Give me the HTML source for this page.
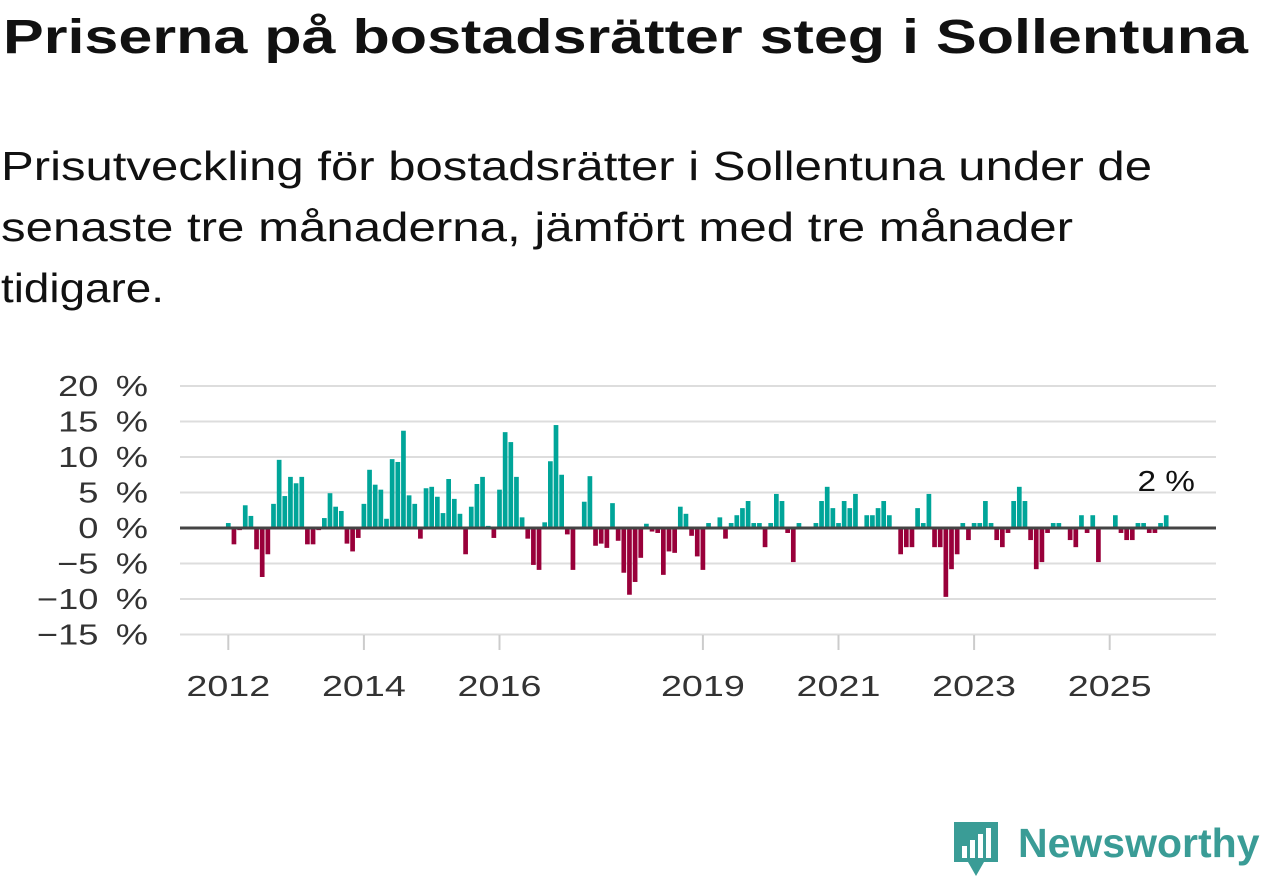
<!DOCTYPE html>
<html><head><meta charset="utf-8">
<style>
body{margin:0;width:1262px;height:879px;background:#fff;font-family:"Liberation Sans",sans-serif;color:#111;position:relative;overflow:hidden}
.fit{position:absolute;white-space:nowrap;transform-origin:0 0;margin:0}
#title{left:3px;top:10px;font-size:48px;font-weight:bold}
.sub{font-size:41px}
svg{position:absolute;left:0;top:0}
</style></head><body>
<h1 id="title" class="fit" data-w="1245">Priserna på bostadsrätter steg i Sollentuna</h1>
<div>
<span class="fit sub" data-w="1151" style="left:1px;top:143px">Prisutveckling för bostadsrätter i Sollentuna under de</span>
<span class="fit sub" data-w="1072" style="left:1px;top:204px">senaste tre månaderna, jämfört med tre månader</span>
<span class="fit sub" data-w="163" style="left:1px;top:265px">tidigare.</span>
</div>
<svg id="chart" width="1262" height="879"></svg>
<div style="position:absolute;left:952px;top:820px;width:310px;height:60px">
<svg width="50" height="60" style="position:absolute;left:0;top:0"><path d="M2 2h44v40h-14l-8 14-8-14H2z" fill="#3a9c96"/><rect x="10" y="26" width="5" height="12" fill="#fff"/><rect x="18" y="20" width="5" height="18" fill="#fff"/><rect x="26" y="14" width="5" height="24" fill="#fff"/><rect x="34" y="8" width="5" height="30" fill="#fff"/></svg>
<div style="position:absolute;left:66px;top:0;font-size:41px;font-weight:bold;color:#3a9c96">Newsworthy</div>
</div>
<script>
const values=[0.7,-2.3,-0.3,3.2,1.7,-3.0,-6.9,-3.7,3.4,9.6,
4.5,7.2,6.3,7.2,-2.3,-2.3,-0.3,1.4,4.9,3.0,
2.4,-2.2,-3.3,-1.4,3.4,8.2,6.1,5.4,1.3,9.7,
9.3,13.7,4.6,3.4,-1.5,5.6,5.8,4.4,2.1,6.9,
4.1,2.0,-3.7,3.0,6.2,7.2,0.3,-1.4,5.4,13.5,
12.1,7.2,1.5,-1.5,-5.2,-5.9,0.8,9.4,14.5,7.5,
-0.9,-5.9,0,3.7,7.3,-2.5,-2.2,-2.8,3.5,-1.8,
-6.3,-9.4,-7.6,-4.2,0.6,-0.5,-0.7,-6.6,-3.3,-3.5,
3.0,2.0,-1.1,-4.0,-5.9,0.7,0,1.5,-1.5,0.7,
1.8,2.8,3.8,0.7,0.7,-2.7,0.7,4.8,3.8,-0.7,
-4.8,0.7,0,0,0.7,3.8,5.8,2.8,0.7,3.8,
2.8,4.8,0,1.8,1.8,2.8,3.8,1.8,0,-3.7,
-2.7,-2.7,2.8,0.7,4.8,-2.7,-2.7,-9.7,-5.8,-3.7,
0.7,-1.7,0.7,0.7,3.8,0.7,-1.7,-2.7,-0.7,3.8,
5.8,3.8,-1.7,-5.8,-4.8,-0.7,0.7,0.7,0,-1.7,
-2.7,1.8,-0.7,1.8,-4.8,0,0,1.8,-0.7,-1.7,
-1.7,0.7,0.7,-0.7,-0.7,0.7,1.8];
const startYear=2012;
const yTicks=[20,15,10,5,0,-5,-10,-15];
const xTickYears=[2012,2014,2016,2019,2021,2023,2025];
const lastLabel="2 %";
const NS="http://www.w3.org/2000/svg";
const svg=document.getElementById('chart');
const x0=180,x1=1216;
function y(v){return 528-v*7.1;}
function xm(i){return 228.3+i*5.65;}
function xYear(yr){return xm((yr-startYear)*12);}
function el(t,a){const e=document.createElementNS(NS,t);for(const k in a)e.setAttribute(k,a[k]);svg.appendChild(e);return e;}
function stretch(t,k){const w=t.getComputedTextLength();t.setAttribute('textLength',w*k);t.setAttribute('lengthAdjust','spacingAndGlyphs');}
document.querySelectorAll('.fit').forEach(e=>{const w=e.getBoundingClientRect().width;e.style.transform='scaleX('+(+e.dataset.w/w)+')';});
yTicks.forEach(t=>{
 if(t!==0){const g=el('line',{x1:x0,x2:x1,y1:y(t),y2:y(t),stroke:'#ddd','stroke-width':2});
 
 }
 const l=el('text',{x:148,y:y(t)+10,'text-anchor':'end','font-size':29,fill:'#333','font-family':'Liberation Sans, sans-serif'});
 l.textContent=(t<0?'\u2212'+(-t):t)+'\u2009 %';
 
 
 stretch(l,1.25);
});
xTickYears.forEach(yr=>{
 const x=xYear(yr);
 const tk=el('line',{x1:x,x2:x,y1:635,y2:650,stroke:'#ccc','stroke-width':2});
 
 
 const l=el('text',{x:x,y:696,'text-anchor':'middle','font-size':29,fill:'#333','font-family':'Liberation Sans, sans-serif'});
 l.textContent=yr;
 
 
 stretch(l,1.3);
});
values.forEach((v,i)=>{
 if(v===0)return;
 const r=el('rect',{x:xm(i)-2.35,width:4.7,y:Math.min(y(v),y(0)),height:Math.abs(y(v)-y(0)),fill:v>0?'#00a599':'#99003a'});
 
 
});
const z=el('line',{x1:x0,x2:x1,y1:y(0),y2:y(0),stroke:'#444','stroke-width':3});


const li=values.length-1;
const lb=el('text',{x:xm(li)-0,y:y(values[li])-24,'text-anchor':'middle','font-size':29,fill:'#111','font-family':'Liberation Sans, sans-serif'});
lb.textContent=lastLabel;


stretch(lb,1.15);
</script>
</body></html>
